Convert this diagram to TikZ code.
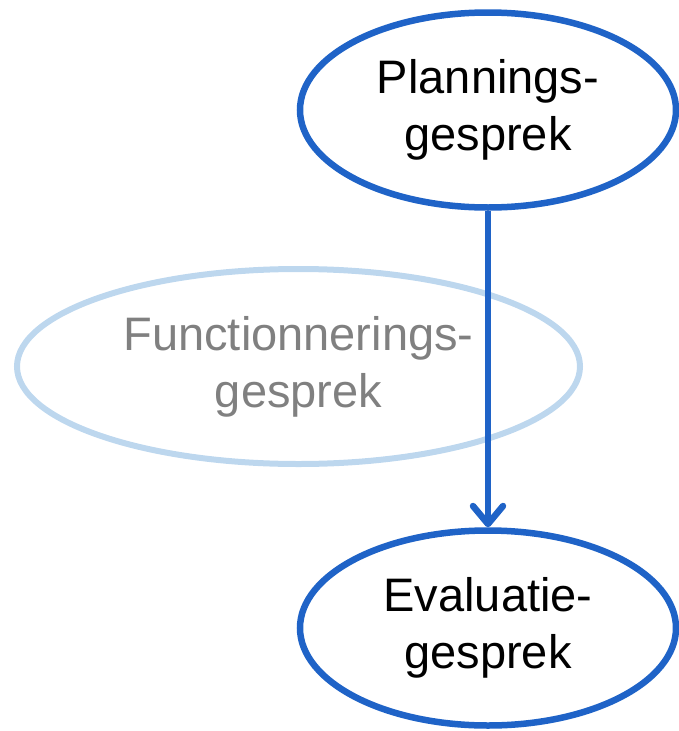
\documentclass[tikz,border=0pt]{standalone}
\usepackage{fontspec}
\setmainfont{Liberation Sans}
\usetikzlibrary{shapes,arrows.meta,positioning}

\definecolor{darkblue}{RGB}{31,99,199}
\definecolor{paleblue}{RGB}{189,215,238}
\definecolor{greytext}{RGB}{128,128,128}

\begin{document}
\begin{tikzpicture}[x=1pt, y=-1pt,
    talk/.style={draw=darkblue, ellipse, line width=6.5pt, align=center, inner sep=0pt,
        minimum width=376pt, minimum height=195pt, font=\fontsize{47}{57}\selectfont},
    faded/.style={draw=paleblue, ellipse, line width=6pt, align=center, inner sep=0pt,
        minimum width=563pt, minimum height=195pt, text=greytext, font=\fontsize{47}{57}\selectfont},
    edge/.style={-{Straight Barb[length=18pt, width=30pt, round]}, line width=6.5pt, draw=darkblue},
]

\useasboundingbox (0,0) rectangle (678,731);

% Talks
\node[talk] (plan) at (488, 110) {Plannings-\\gesprek};
\node[faded] (func) at (298.5, 366.5) {Functionnerings-\\gesprek};
\node[talk] (eval) at (488, 628) {Evaluatie-\\gesprek};

\draw[edge] (plan) -- (eval);

\end{tikzpicture}
\end{document}
